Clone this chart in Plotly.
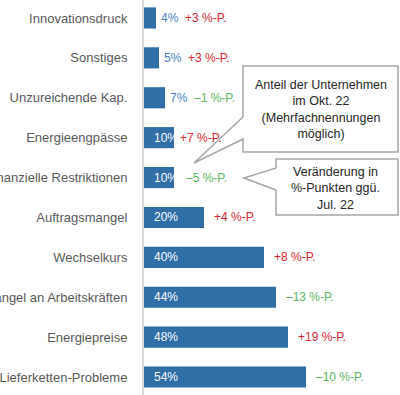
import plotly.graph_objects as go

categories = ["Innovationsdruck", "Sonstiges", "Unzureichende Kap.", "Energieengpässe",
              "Finanzielle Restriktionen", "Auftragsmangel", "Wechselkurs",
              "Mangel an Arbeitskräften", "Energiepreise", "Lieferketten-Probleme"]
shares = [4, 5, 7, 10, 10, 20, 40, 44, 48, 54]
changes = [3, 3, -1, 7, -5, 4, 8, -13, 19, -10]

note_share = "Anteil der Unternehmen<br>im Okt. 22<br>(Mehrfachnennungen<br>möglich)"
note_change = "Veränderung in<br>%-Punkten ggü.<br>Jul. 22"

W, H = 400, 395
ML = 144
BAR = "#2f6ea6"
RED = "#d9262e"
GREEN = "#5cb660"
BLUE_TXT = "#4a82bf"
FONT = "Liberation Sans, Arial, sans-serif"

fig = go.Figure(go.Bar(
    x=shares, y=categories, orientation="h",
    marker=dict(color=BAR, line=dict(width=0)),
    width=0.53, hoverinfo="skip",
))

ann = []
for c, v, d in zip(categories, shares, changes):
    if v >= 10:
        ann.append(dict(x=0, y=c, xref="x", yref="y", text=f"{v}%", showarrow=False,
                        xanchor="left", xshift=8, font=dict(color="white", size=12, family=FONT)))
    else:
        ann.append(dict(x=v, y=c, xref="x", yref="y", text=f"{v}%", showarrow=False,
                        xanchor="left", xshift=3, font=dict(color=BLUE_TXT, size=12, family=FONT)))
    if v >= 20:
        sh = 8
    elif v >= 10:
        sh = 4 if d > 0 else 10
    else:
        sh = 27
    txt = (f"+{d} %-P." if d > 0 else f"–{abs(d)} %-P.")
    ann.append(dict(x=v, y=c, xref="x", yref="y", text=txt, showarrow=False,
                    xanchor="left", xshift=sh,
                    font=dict(color=RED if d > 0 else GREEN, size=12, family=FONT)))


def px(x, y):
    return (x - ML) / (W - ML), 1 - y / H


def path(points):
    s = ""
    for i, (x, y) in enumerate(points):
        xp, yp = px(x, y)
        s += ("M" if i == 0 else "L") + f"{xp:.5f},{yp:.5f} "
    return s + "Z"


box1 = [(243, 66), (398, 66), (398, 152), (243, 152), (243, 139), (194, 163), (243, 117)]
box2 = [(276, 159), (398, 159), (398, 215), (276, 215), (276, 190), (244, 178), (276, 168)]
shapes = [dict(type="path", xref="paper", yref="paper", path=path(b),
               fillcolor="white", line=dict(color="#a6a6a6", width=1.5), layer="above")
          for b in (box1, box2)]

x1, y1 = px(321, 110)
x2, y2 = px(335, 188)
ann.append(dict(x=x1, y=y1, xref="paper", yref="paper", text=note_share, showarrow=False,
                xanchor="center", yanchor="middle", align="center",
                font=dict(color="#262626", size=12.5, family=FONT)))
ann.append(dict(x=x2, y=y2, xref="paper", yref="paper", text=note_change, showarrow=False,
                xanchor="center", yanchor="middle", align="center",
                font=dict(color="#262626", size=12.5, family=FONT)))

fig.update_layout(
    width=W, height=H,
    margin=dict(l=ML, r=0, t=0, b=0, autoexpand=False),
    plot_bgcolor="white", paper_bgcolor="white",
    showlegend=False,
    xaxis=dict(range=[0, (W - ML) / 3], visible=False, fixedrange=True, automargin=False),
    yaxis=dict(range=[9.45, -0.45], showgrid=False, zeroline=False, automargin=False,
               showline=True, linecolor="#d9d9d9", linewidth=2,
               ticks="", ticklabelstandoff=12,
               tickfont=dict(color="#595959", size=13, family=FONT), fixedrange=True),
    annotations=ann, shapes=shapes,
)

fig.write_html("out.html", config={"displayModeBar": False},
               post_script="document.body.style.margin='0';document.body.style.overflow='hidden';")
